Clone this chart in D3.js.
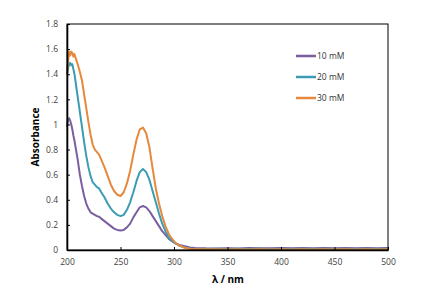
<!DOCTYPE html>
<html>
<head>
<meta charset="utf-8">
<script src="https://cdn.jsdelivr.net/npm/d3@7"></script>
<style>
  body { margin: 0; background: #fff; }
  text { font-family: "Open Sans", "Liberation Sans", sans-serif; }
</style>
</head>
<body>
<svg id="chart" width="430" height="288"></svg>
<script>
'use strict';

// wavelength grid (nm)
var wavelengths = [200, 201, 202, 203, 204, 205, 206, 207, 208, 210, 212, 214, 216, 218, 220, 222, 224, 226, 228, 230,
  232, 235, 238, 241, 244, 247, 250, 253, 256, 259, 262, 265, 268, 271, 274, 277, 280, 283, 286, 289, 292, 295, 298,
  301, 305, 310, 315, 320, 330, 340, 350, 360, 370, 380, 390, 400, 410, 420, 430, 440, 450, 460, 470, 480, 490, 500];

var abs10 = [0.98, 1.04, 1.05, 1.03, 1.00, 0.96, 0.91, 0.87, 0.82, 0.72, 0.60, 0.51, 0.43, 0.37, 0.33, 0.30, 0.29, 0.28, 0.27, 0.265,
  0.25, 0.23, 0.21, 0.19, 0.17, 0.16, 0.155, 0.16, 0.18, 0.21, 0.26, 0.30, 0.34, 0.35, 0.34, 0.31, 0.27, 0.23, 0.19, 0.15, 0.12, 0.09, 0.07,
  0.055, 0.04, 0.03, 0.02, 0.016, 0.013, 0.012, 0.014, 0.012, 0.015, 0.013, 0.014, 0.016, 0.013, 0.015, 0.014, 0.016, 0.013, 0.015, 0.014, 0.016, 0.013, 0.015];

var abs20 = [1.40, 1.45, 1.48, 1.49, 1.47, 1.48, 1.44, 1.40, 1.34, 1.22, 1.10, 0.98, 0.86, 0.75, 0.66, 0.59, 0.54, 0.52, 0.50, 0.49,
  0.46, 0.42, 0.37, 0.33, 0.30, 0.28, 0.27, 0.28, 0.32, 0.38, 0.46, 0.55, 0.62, 0.645, 0.62, 0.56, 0.47, 0.38, 0.29, 0.21, 0.15, 0.10, 0.075,
  0.055, 0.035, 0.02, 0.012, 0.009, 0.008, 0.009, 0.008, 0.009, 0.008, 0.009, 0.008, 0.009, 0.008, 0.009, 0.008, 0.009, 0.008, 0.009, 0.008, 0.009, 0.008, 0.009];

var abs30 = [1.40, 1.50, 1.58, 1.55, 1.58, 1.57, 1.54, 1.56, 1.53, 1.48, 1.42, 1.35, 1.24, 1.13, 1.02, 0.92, 0.84, 0.80, 0.78, 0.76,
  0.72, 0.66, 0.59, 0.52, 0.47, 0.44, 0.43, 0.46, 0.53, 0.63, 0.76, 0.88, 0.96, 0.975, 0.93, 0.82, 0.65, 0.49, 0.37, 0.27, 0.19, 0.13, 0.09,
  0.06, 0.035, 0.018, 0.01, 0.006, 0.005, 0.005, 0.004, 0.005, 0.004, 0.005, 0.004, 0.005, 0.004, 0.005, 0.004, 0.005, 0.004, 0.005, 0.004, 0.005, 0.004, 0.005];

var seriesNames = ["10 mM", "20 mM", "30 mM"];
var seriesColors = ["#7a5fa0", "#3b9cb3", "#e5893d"];
var xTicks = [200, 250, 300, 350, 400, 450, 500];
var yTicks = [0, 0.2, 0.4, 0.6, 0.8, 1, 1.2, 1.4, 1.6, 1.8];

var margin = {top: 24, right: 42, bottom: 38, left: 67};
var width = 430 - margin.left - margin.right;
var height = 288 - margin.top - margin.bottom;

var svg = d3.select('#chart');
var g = svg.append('g').attr('transform', 'translate(' + margin.left + ',' + margin.top + ')');

var x = d3.scaleLinear().domain([200, 500]).range([0, width]);
var y = d3.scaleLinear().domain([0, 1.8]).range([height, 0]);

var series = [abs10, abs20, abs30].map(function (vals, i) {
  return {name: seriesNames[i], color: seriesColors[i],
    values: vals.map(function (v, j) { return {x: wavelengths[j], y: v}; })};
});

var line = d3.line()
  .x(function (d) { return x(d.x); })
  .y(function (d) { return y(d.y); });

g.selectAll('.series')
  .data(series)
  .enter().append('path')
  .attr('class', 'series')
  .attr('fill', 'none')
  .attr('stroke', function (d) { return d.color; })
  .attr('stroke-width', 2)
  .attr('stroke-linejoin', 'round')
  .attr('d', function (d) { return line(d.values); });

// frame
g.append('rect')
  .attr('width', width).attr('height', height)
  .attr('fill', 'none').attr('stroke', '#000').attr('stroke-width', 1);

var xAxis = g.append('g')
  .attr('transform', 'translate(0,' + height + ')')
  .call(d3.axisBottom(x).tickValues(xTicks).tickSizeInner(-3).tickSizeOuter(0).tickPadding(9));
var yAxis = g.append('g')
  .call(d3.axisLeft(y).tickValues(yTicks).tickSizeInner(-3).tickSizeOuter(0).tickPadding(9)
    .tickFormat(function (d) { return d3.format('')(+d.toFixed(1)); }));

[xAxis, yAxis].forEach(function (a) {
  a.select('.domain').attr('stroke', '#000').attr('stroke-width', 1.6);
  a.selectAll('.tick line').attr('stroke', '#000');
  a.selectAll('.tick text').attr('fill', '#404040').style('font-size', '8.5px');
});

svg.append('text')
  .attr('transform', 'translate(39,' + (margin.top + height / 2) + ') rotate(-90)')
  .attr('text-anchor', 'middle')
  .style('font-size', '10px').style('font-weight', 'bold')
  .text('Absorbance');

svg.append('text')
  .attr('x', 228).attr('y', 283)
  .attr('text-anchor', 'middle')
  .style('font-size', '10px').style('font-weight', 'bold')
  .text('λ / nm');

var legend = svg.append('g').selectAll('g')
  .data(series)
  .enter().append('g')
  .attr('transform', function (d, i) { return 'translate(296,' + (56 + i * 21) + ')'; });
legend.append('line')
  .attr('x1', 0).attr('x2', 20)
  .attr('stroke', function (d) { return d.color; })
  .attr('stroke-width', 2.5);
legend.append('text')
  .attr('x', 21).attr('dy', '0.35em')
  .attr('fill', '#333')
  .style('font-size', '8.5px')
  .text(function (d) { return d.name; });
</script>
</body>
</html>
